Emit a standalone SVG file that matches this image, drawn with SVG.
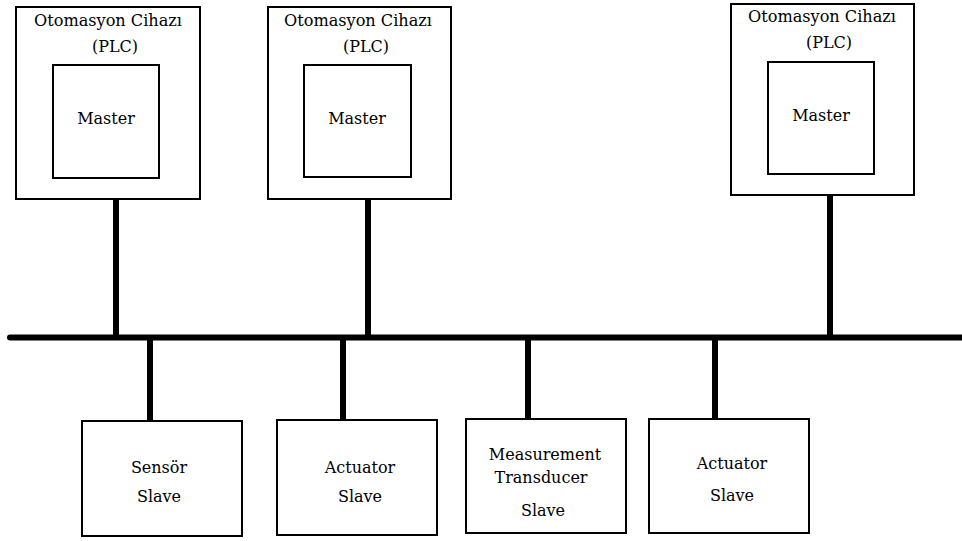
<svg xmlns="http://www.w3.org/2000/svg" width="962" height="541" viewBox="0 0 962 541">
<style>
.box{fill:#fff;stroke:#000;stroke-width:2}
.wire{stroke:#000;stroke-width:6;fill:none}
text{font-family:"DejaVu Serif","Liberation Serif",serif;font-size:16px;fill:#000;text-anchor:middle}
</style>
<rect width="962" height="541" fill="#fff"/>
<g id="connectors">
<line class="wire" x1="10" y1="337.5" x2="962" y2="337.5" stroke-linecap="round"/>
<line class="wire" x1="116" y1="199" x2="116" y2="337"/>
<line class="wire" x1="368" y1="199" x2="368" y2="337"/>
<line class="wire" x1="830" y1="195" x2="830" y2="337"/>
<line class="wire" x1="150" y1="337" x2="150" y2="421"/>
<line class="wire" x1="343" y1="337" x2="343" y2="420"/>
<line class="wire" x1="528" y1="337" x2="528" y2="419"/>
<line class="wire" x1="715" y1="337" x2="715" y2="419"/>
</g>
<g id="plc1">
<rect class="box" x="16" y="7" width="184" height="192"/>
<text x="108" y="26" textLength="148" lengthAdjust="spacingAndGlyphs">Otomasyon Cihazı</text>
<text x="115" y="52">(PLC)</text>
<rect class="box" x="53" y="65" width="106" height="113"/>
<text x="106" y="124">Master</text>
</g>
<g id="plc2">
<rect class="box" x="268" y="7" width="183" height="192"/>
<text x="358" y="26" textLength="148" lengthAdjust="spacingAndGlyphs">Otomasyon Cihazı</text>
<text x="366" y="52">(PLC)</text>
<rect class="box" x="304" y="65" width="107" height="112"/>
<text x="357" y="124">Master</text>
</g>
<g id="plc3">
<rect class="box" x="731" y="4" width="183" height="191"/>
<text x="822" y="22" textLength="148" lengthAdjust="spacingAndGlyphs">Otomasyon Cihazı</text>
<text x="829" y="48">(PLC)</text>
<rect class="box" x="768" y="62" width="106" height="112"/>
<text x="821" y="121">Master</text>
</g>
<g id="slave-sensor">
<rect class="box" x="82" y="421" width="160" height="115"/>
<text x="159" y="473">Sensör</text>
<text x="159" y="502">Slave</text>
</g>
<g id="slave-actuator1">
<rect class="box" x="277" y="420" width="160" height="115"/>
<text x="360" y="473">Actuator</text>
<text x="360" y="502">Slave</text>
</g>
<g id="slave-transducer">
<rect class="box" x="466" y="419" width="160" height="114"/>
<text x="545" y="460">Measurement</text>
<text x="541" y="483">Transducer</text>
<text x="543" y="516">Slave</text>
</g>
<g id="slave-actuator2">
<rect class="box" x="649" y="419" width="160" height="114"/>
<text x="732" y="469">Actuator</text>
<text x="732" y="501">Slave</text>
</g>
</svg>
